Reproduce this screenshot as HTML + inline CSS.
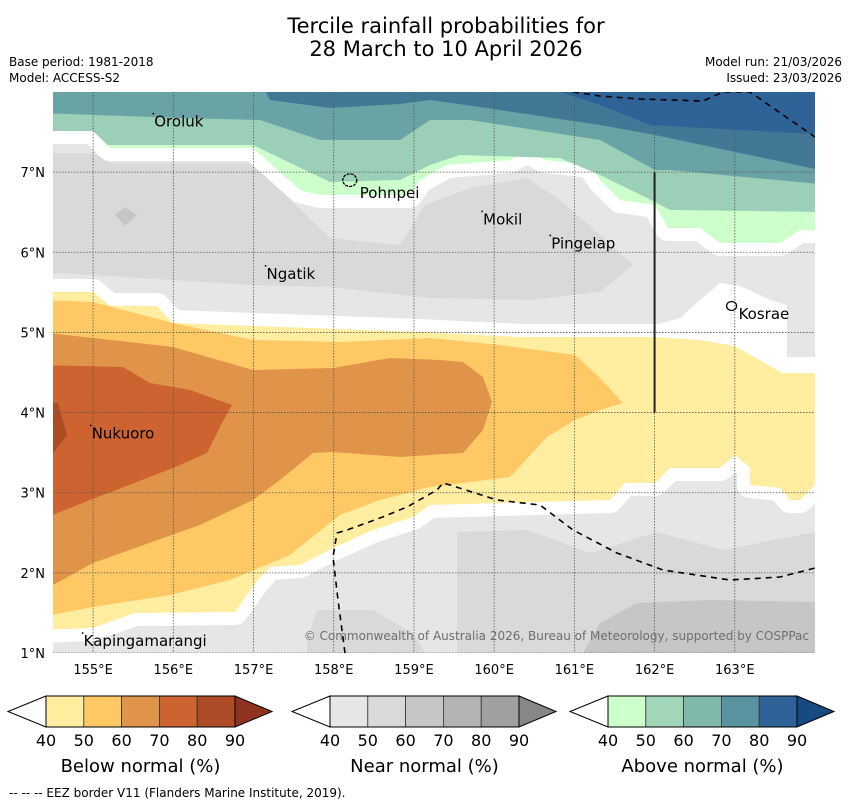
<!DOCTYPE html>
<html><head><meta charset="utf-8"><style>
body{margin:0;background:#fff;width:850px;height:804px;overflow:hidden;font-family:"Liberation Sans","DejaVu Sans",sans-serif}
svg{display:block}
</style></head><body>
<svg id="chart" width="850" height="804" viewBox="0 0 850 804">
<text x="446" y="33" font-size="21" text-anchor="middle" font-family="DejaVu Sans,sans-serif">Tercile rainfall probabilities for</text>
<text x="446" y="56" font-size="21" text-anchor="middle" font-family="DejaVu Sans,sans-serif">28 March to 10 April 2026</text>
<text x="9" y="66" font-size="12" font-family="DejaVu Sans,sans-serif">Base period: 1981-2018</text>
<text x="9" y="82" font-size="12" font-family="DejaVu Sans,sans-serif">Model: ACCESS-S2</text>
<text x="842" y="66" font-size="12" text-anchor="end" font-family="DejaVu Sans,sans-serif">Model run: 21/03/2026</text>
<text x="842" y="82" font-size="12" text-anchor="end" font-family="DejaVu Sans,sans-serif">Issued: 23/03/2026</text>
<defs><clipPath id="mapclip"><rect x="53" y="92" width="762" height="561"/></clipPath></defs>
<g id="map" clip-path="url(#mapclip)"></g>
<g id="axes"></g>
<g id="cbars"></g>
<text x="9" y="797" font-size="12" font-family="DejaVu Sans,sans-serif">--  --  -- EEZ border V11 (Flanders Marine Institute, 2019).</text>
</svg>
<script>
// ---- axis data ----
const lonTicks = [155,156,157,158,159,160,161,162,163];
const latTicks = [1,2,3,4,5,6,7];
const lonRange = [154.5,164.0];
const latRange = [1,8];
const islandNames = ["Oroluk","Pohnpei","Mokil","Pingelap","Ngatik","Kosrae","Nukuoro","Kapingamarangi"];
const islandLons = [155.75,158.2,159.85,160.7,157.15,162.96,154.97,154.87];
const islandLats = [7.73,6.9,6.51,6.21,5.83,5.33,3.84,1.25];
const cbarLevels = [40,50,60,70,80,90];
const cbarTitles = ["Below normal (%)","Near normal (%)","Above normal (%)"];
const belowColors = ["#ffeda0","#fec965","#e0944a","#cc6331","#ad4b27","#8f3320"];
const nearColors = ["#e6e6e6","#d9d9d9","#c6c6c6","#b3b3b3","#a0a0a0","#878787"];
const aboveColors = ["#ccffcc","#a2d6b8","#80b8ac","#5a93a0","#2f6296","#174a80"];

const X0=53,X1=815,Y0=653,Y1=92;
function xs(lon){return X0+(lon-lonRange[0])/(lonRange[1]-lonRange[0])*(X1-X0);}
function ys(lat){return Y0-(lat-latRange[0])/(latRange[1]-latRange[0])*(Y0-Y1);}
const NS="http://www.w3.org/2000/svg";
function mk(tag,attrs,parent){const e=document.createElementNS(NS,tag);for(const k in attrs)e.setAttribute(k,attrs[k]);parent.appendChild(e);return e;}

// ---- contour shapes (filled contour geometry, image space) ----
const map=document.getElementById('map');
function poly(pts,fill,name,stroke){
  const p=mk('polygon',{points:pts,fill:fill},map);
  if(stroke){p.setAttribute('stroke','#fff');p.setAttribute('stroke-width',stroke);p.setAttribute('stroke-linejoin','round');p.setAttribute('paint-order','stroke');}
  
  
  return p;
}
const bg=mk('rect',{x:53,y:92,width:762,height:561,fill:'#e6e6e6'},map);


// near normal 50
poly("53,153 93,153 110,163 253,163 330,238 400,245 425,205 470,188 527,178 560,200 600,235 633,265 600,292 530,300 430,298 330,287 250,285 93,275 53,273","#d9d9d9","near-normal-50-north");
poly("307,653 307,640 317,610 373,610 413,633 425,653","#d9d9d9","near-normal-50-south-west");
poly("457,653 457,580 457,532 527,530 590,553 657,532 723,550 815,532 815,653","#d9d9d9","near-normal-50-south-east");
poly("125,207 137,215 125,226 115,215","#c6c6c6","near-normal-60-diamond");
poly("583,653 600,623 637,603 713,600 815,602 815,653","#c6c6c6","near-normal-60-south");
// Kosrae white region
poly("655,325 680,318 700,300 720,283 740,286 770,300 787,305 787,357 815,357 815,380 655,380","#ffffff","low-confidence-kosrae");
// above normal
poly("40,80 830,80 830,230 800,230 780,243 720,243 700,228 668,228 655,205 620,200 600,180 590,165 545,160 527,150 510,160 447,165 420,180 410,195 320,195 300,190 253,148 110,148 93,131 40,131","#ccffcc","above-normal-40",26);
poly("40,80 830,80 830,212 670,210 655,202 600,175 560,158 460,155 430,165 400,180 330,182 253,145 108,145 93,131 40,131","#9ccfb7","above-normal-50");
poly("40,80 830,80 830,185 670,170 655,170 600,140 470,120 430,120 400,140 320,140 260,120 180,118 40,113","#6aa3a5","above-normal-60");
poly("260,80 830,80 830,172 655,135 600,125 480,107 430,100 400,104 330,108 270,100","#427896","above-normal-70");
poly("560,80 830,80 830,135 650,125 600,105 560,92","#2f6296","above-normal-80");
// below normal
poly("40,292 93,292 110,306 157,306 173,323 420,332 520,337 655,337 700,340 735,346 782,373 830,373 830,485 815,485 800,500 790,500 780,488 750,485 750,468 735,455 720,468 670,468 655,483 625,483 610,500 430,505 413,517 373,530 333,548 300,565 270,567 258,580 235,612 135,613 93,628 40,630","#ffeda0","below-normal-40",26);
poly("40,300 93,302 173,323 253,340 340,342 430,338 500,345 575,355 600,378 623,403 600,410 575,420 547,437 523,463 510,477 463,483 430,487 380,500 340,515 290,555 230,580 170,595 93,607 40,617","#fec965","below-normal-50");
poly("40,332 173,347 253,370 333,368 390,358 440,360 463,362 483,377 492,402 483,430 463,453 430,455 400,457 333,452 313,453 280,480 253,500 200,525 93,563 53,585 40,588","#e0944a","below-normal-60");
poly("40,365 123,367 150,383 190,390 232,405 222,423 207,453 173,468 90,500 40,520","#cc6331","below-normal-70");
poly("40,402 58,403 67,435 53,453 40,455","#ad4b27","below-normal-80");

// gridlines
lonTicks.forEach(v=>{const l=mk('line',{x1:xs(v),x2:xs(v),y1:Y1,y2:Y0,stroke:'#555','stroke-width':0.8,'stroke-dasharray':'1.5,1.5'},map);

});
latTicks.forEach(v=>{const l=mk('line',{x1:X0,x2:X1,y1:ys(v),y2:ys(v),stroke:'#555','stroke-width':0.8,'stroke-dasharray':'1.5,1.5'},map);

});

// EEZ borders
const e1=mk('polyline',{points:"573,92 600,96 640,99 703,101 723,92 750,92 815,137",fill:'none',stroke:'#000','stroke-width':1.6,'stroke-dasharray':'6,5'},map);


const e2=mk('polyline',{points:"345,653 338,600 333,557 337,533 347,530 380,518 407,507 437,490 443,483 450,485 497,500 540,505 573,530 617,553 663,570 730,580 780,577 815,568",fill:'none',stroke:'#000','stroke-width':1.6,'stroke-dasharray':'6,5'},map);


const vl=mk('line',{x1:xs(162),x2:xs(162),y1:ys(7),y2:ys(4),stroke:'#222','stroke-width':2},map);



// islands
islandNames.forEach((n,i)=>{
  const x=xs(islandLons[i]),y=ys(islandLats[i]);
  if(n==="Pohnpei"||n==="Kosrae"){
    const r=n==="Pohnpei"?7:5;
    const c=mk('ellipse',{cx:x,cy:y,rx:r,ry:r*0.9,fill:'none',stroke:'#000','stroke-width':1.3,'stroke-dasharray':n==="Pohnpei"?'3,1':'none'},map);
    
    
  } else {
    const d=mk('circle',{cx:x,cy:y,r:0.9,fill:'#000'},map);
    
    
  }
  const off=n==="Pohnpei"?10:(n==="Kosrae"?7:1);
  const t=mk('text',{x:x+off,y:y+(n==="Pohnpei"?18:13),'font-size':15,'font-family':'DejaVu Sans,sans-serif',fill:'#000'},map);
  t.textContent=n;
  
  
});
const cp=mk('text',{x:809,y:640,'font-size':12,'text-anchor':'end',fill:'#6e6e6e','font-family':'DejaVu Sans,sans-serif'},map);
cp.textContent="© Commonwealth of Australia 2026, Bureau of Meteorology, supported by COSPPac";



// axis labels
const ax=document.getElementById('axes');
lonTicks.forEach(v=>{const t=mk('text',{x:xs(v),y:674,'font-size':13,'text-anchor':'middle','font-family':'DejaVu Sans,sans-serif'},ax);
t.textContent=v+"°E";

});
latTicks.forEach(v=>{const t=mk('text',{x:45,y:ys(v)+5,'font-size':13,'text-anchor':'end','font-family':'DejaVu Sans,sans-serif'},ax);
t.textContent=v+"°N";

});

// colorbars
const cb=document.getElementById('cbars');
const bodies=[46,330,608];
const palettes=[belowColors,nearColors,aboveColors];
const segW=37.8,cbTop=696,cbH=31;
bodies.forEach((bx,k)=>{
  const pal=palettes[k];const n=cbarLevels.length-1;const right=bx+segW*n;
  const lt=mk('polygon',{points:`${bx},${cbTop} ${bx-38},${cbTop+cbH/2} ${bx},${cbTop+cbH}`,fill:'#fff',stroke:'#000','stroke-width':1},cb);
  
  
  for(let i=0;i<n;i++){
    const r=mk('rect',{x:bx+segW*i,y:cbTop,width:segW,height:cbH,fill:pal[i],stroke:'#333','stroke-width':0.8},cb);
    
    
  }
  const rt=mk('polygon',{points:`${right},${cbTop} ${right+37},${cbTop+cbH/2} ${right},${cbTop+cbH}`,fill:pal[n],stroke:'#000','stroke-width':1},cb);
  
  
  const fr=mk('rect',{x:bx,y:cbTop,width:segW*n,height:cbH,fill:'none',stroke:'#000','stroke-width':1},cb);
  
  
  cbarLevels.forEach((lv,i)=>{const t=mk('text',{x:bx+segW*i,y:746,'font-size':16,'text-anchor':'middle','font-family':'DejaVu Sans,sans-serif'},cb);
    t.textContent=lv;
    
    });
  const tt=mk('text',{x:bx+segW*n/2,y:772,'font-size':18,'text-anchor':'middle','font-family':'DejaVu Sans,sans-serif'},cb);
  tt.textContent=cbarTitles[k];
  
  
});
</script>
</body></html>
